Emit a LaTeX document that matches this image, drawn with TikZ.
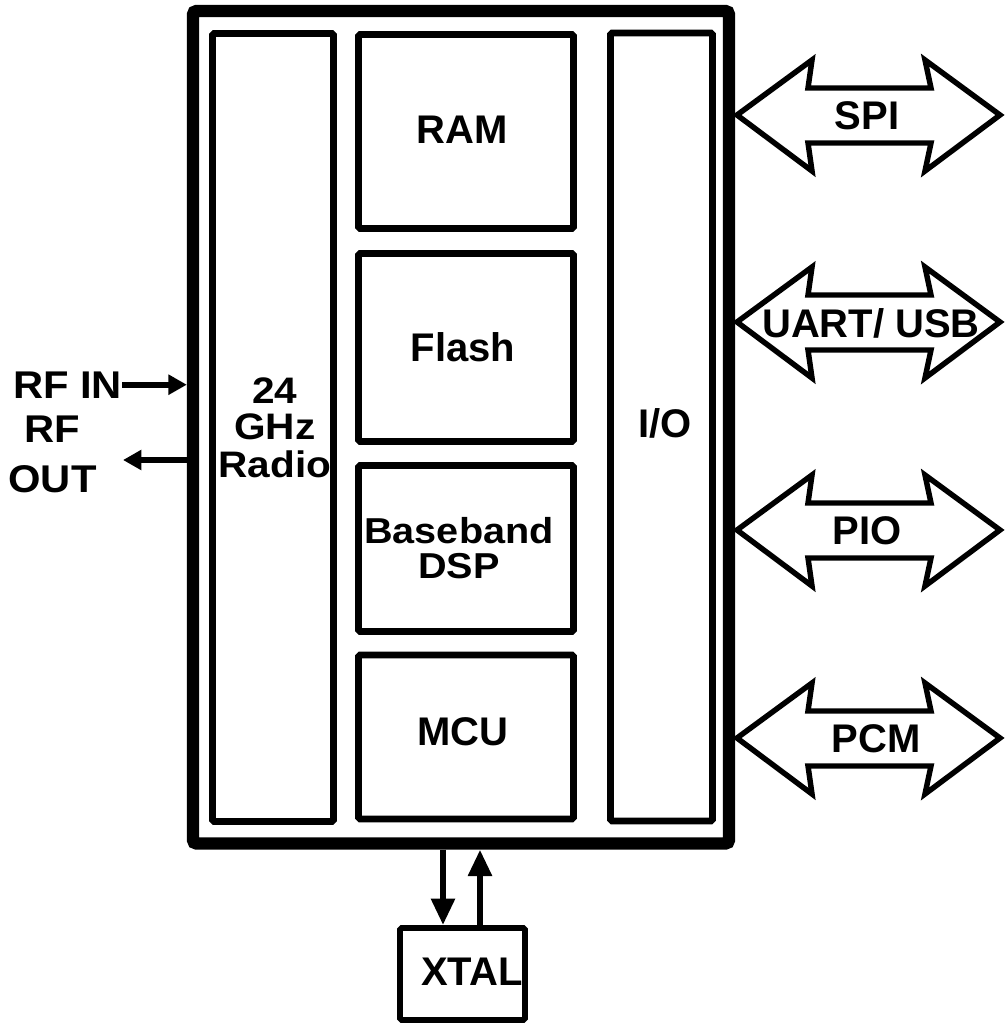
\documentclass[tikz,border=0pt]{standalone}
\usepackage{fontspec}
\setmainfont{Liberation Sans}
\usepackage{graphicx}
\usetikzlibrary{arrows.meta,calc}
\newcommand\pxu{0.02cm}
\newcommand\bigfont{\fontsize{22.76}{26}\selectfont\bfseries}
\newcommand\smfont[2]{\fontsize{#1}{#2}\selectfont\bfseries}
\begin{document}
\begin{tikzpicture}[x=0.02cm, y=-0.02cm,
  bx/.style={draw, line width=3.9pt, rounded corners=1pt, inner sep=0pt},
  chipst/.style={draw, line width=7pt, rounded corners=2pt, inner sep=0pt},
  txt/.style={inner sep=0pt, font=\bigfont},
  stxt/.style={inner sep=0pt, anchor=base},
  dbl/.style={draw, line width=3.1pt, line join=miter},
  sig/.style={line width=3.4pt, -{Triangle[length=10.5pt,width=11pt]}},
  xsig/.style={line width=3.4pt, -{Triangle[length=15pt,width=13pt]}}]
\fill[white] (0,0) rectangle (1005,1025);
\useasboundingbox (0,0) rectangle (1005,1025);

% main chip and inner blocks
\node[chipst, minimum width=536*\pxu, minimum height=832.5*\pxu] (chip) at (461,427.25) {};
\node[bx, minimum width=121*\pxu, minimum height=788*\pxu] (radio) at (273,427.5) {};
\node[bx, minimum width=215*\pxu, minimum height=194*\pxu] (ram) at (466,131.5) {};
\node[bx, minimum width=215*\pxu, minimum height=188*\pxu] (flash) at (466,347.5) {};
\node[bx, minimum width=215*\pxu, minimum height=166*\pxu] (dsp) at (466,548.5) {};
\node[bx, minimum width=215*\pxu, minimum height=164*\pxu] (mcu) at (466,737) {};
\node[bx, minimum width=102*\pxu, minimum height=788*\pxu] (io) at (661.5,427) {};
\node[bx, line width=3.4pt, minimum width=125*\pxu, minimum height=92*\pxu] (xtal) at (462.5,974) {};

% texts
\node[txt] (ramt) at (462,130) {RAM};
\node[txt] (flasht) at (463,347) {Flash};
\node[txt] (mcut) at (463,732) {MCU};
\node[txt] (iot) at (665,423) {I/O};
\node[txt] (xtalt) at (472,972) {XTAL};
\node[stxt, font={\smfont{21}{21.05}}] (radiot) at (275,403)
  {\scalebox{1.1}[1]{\begin{tabular}[t]{@{}c@{}}24\\GHz\\Radio\end{tabular}}};
\node[stxt, font={\smfont{20.5}{19.9}}] (dspt) at (459,543)
  {\scalebox{1.1}[1]{\begin{tabular}[t]{@{}c@{}}Baseband\\DSP\end{tabular}}};
\node[stxt, font={\smfont{22}{29}}] (rfin) at (67.5,398) {\scalebox{1.08}[1]{RF IN}};
\node[stxt, font={\smfont{22}{29}}] (rfout) at (52.5,442)
  {\scalebox{1.08}[1]{\begin{tabular}[t]{@{}c@{}}RF\\OUT\end{tabular}}};

% RF signals
\draw[sig] (rfin.east) -- (chip.west |- rfin.east);
\coordinate (rfoutend) at (123,460);
\draw[sig] (chip.west |- rfoutend) -- (rfoutend);

% XTAL signals
\coordinate (xd) at (443,0);
\coordinate (xu) at (480,0);
\draw[xsig] (chip.south -| xd) -- (xtal.north -| xd);
\draw[xsig] (xtal.north -| xu) -- (chip.south -| xu);

% double arrows
\foreach \c/\nm/\lx/\lbl in {115/spi/867/SPI, 322/uart/871/{UART/ USB}, 530/pio/867/PIO, 738/pcm/876/PCM}{
  \draw[dbl, shift={(0,\c)}] (737,0) -- (812,-55) -- (808,-27) -- (931,-27) -- (925,-55) -- (1000,0)
     -- (925,56) -- (931,28) -- (808,28) -- (812,56) -- cycle;
  \node[txt] (\nm) at (\lx,\c+1) {\lbl};
}
\end{tikzpicture}
\end{document}
